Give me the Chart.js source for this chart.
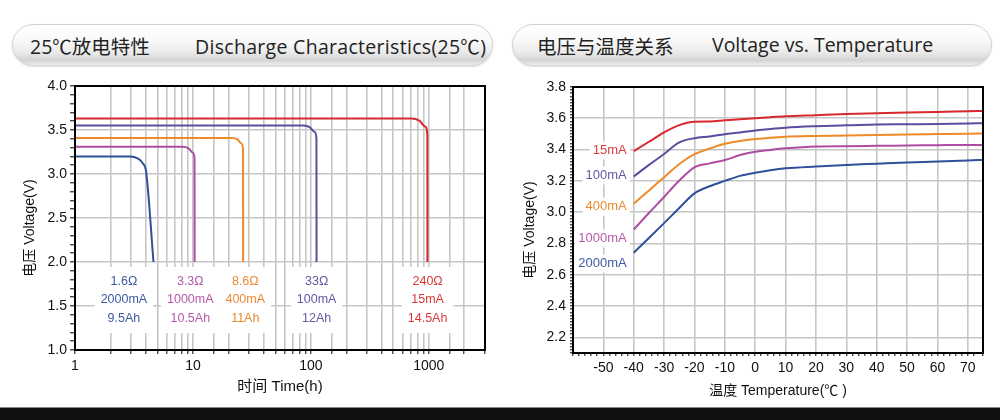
<!DOCTYPE html>
<html>
<head>
<meta charset="utf-8">
<script src="https://cdn.jsdelivr.net/npm/chart.js@4.4.1/dist/chart.umd.min.js"></script>
<style>
body{margin:0;background:#fff;width:1000px;height:420px;position:relative;overflow:hidden;font-family:'Open Sans','Noto Sans CJK SC',sans-serif}
.bar{position:absolute;top:24px;height:40px;border:1px solid #d2d2d2;border-radius:21px;
 background:linear-gradient(to bottom,#ffffff 0%,#f9f9f9 40%,#e9e9e9 70%,#d3d3d3 88%,#eeeeee 100%);
 box-shadow:0 1px 2px rgba(0,0,0,0.12)}
.bar span{position:absolute;top:6px;font-size:19.5px;color:#222;white-space:nowrap}
.box{position:absolute;top:70px;width:500px;height:335px}
#foot{position:absolute;left:0;top:407px;width:1000px;height:13px;background:#131010;border-top:1px solid #8a8a8a}
</style>
</head>
<body>
<div class="bar" style="left:12px;width:479px"><span style="left:17px">25℃放电特性</span><span style="left:182px;letter-spacing:0.3px">Discharge Characteristics(25℃)</span></div>
<div class="bar" style="left:512px;width:478px"><span style="left:24px">电压与温度关系</span><span style="left:199px">Voltage vs. Temperature</span></div>
<div class="box" style="left:0"><canvas id="chart1" width="500" height="335"></canvas></div>
<div class="box" style="left:500px"><canvas id="chart2" width="500" height="335"></canvas></div>
<div id="foot"></div>
<script>
// 放电曲线 (时间 h / 电压 V)
var time_2000mA = [1, 2.93, 3.43, 3.78, 4.01, 4.63];
var volt_2000mA = [3.2, 3.2, 3.174, 3.117, 3.026, 2.0];
var time_1000mA = [1, 8.16, 9.18, 10.0, 10.32, 10.34];
var volt_1000mA = [3.31, 3.31, 3.292, 3.242, 3.174, 2.0];
var time_400mA = [1, 21.4, 23.9, 25.8, 26.6, 26.65];
var volt_400mA = [3.41, 3.41, 3.393, 3.348, 3.285, 2.0];
var time_100mA = [1, 86.5, 98.3, 108, 111.6, 111.8];
var volt_100mA = [3.55, 3.55, 3.53, 3.476, 3.402, 2.0];
var time_15mA = [1, 711, 832, 933, 973, 975];
var volt_15mA = [3.63, 3.63, 3.606, 3.539, 3.448, 2.0];

var resistances = ['1.6Ω', '3.3Ω', '8.6Ω', '33Ω', '240Ω'];
var currents = ['2000mA', '1000mA', '400mA', '100mA', '15mA'];
var capacities = ['9.5Ah', '10.5Ah', '11Ah', '12Ah', '14.5Ah'];
var labelTimes = [2.6, 9.5, 27.8, 112, 978];
var timeTicks = [1, 10, 100, 1000];

// 温度曲线
var temps = [-40, -35, -30, -25, -20, -15, -10, -5, 0, 5, 10, 20, 30, 40, 50, 60, 70, 75];
var temp_15mA = [3.39, 3.45, 3.51, 3.556, 3.578, 3.58, 3.587, 3.594, 3.60, 3.607, 3.613, 3.62, 3.627, 3.633, 3.637, 3.64, 3.645, 3.647];
var temp_100mA = [3.228, 3.302, 3.372, 3.446, 3.473, 3.484, 3.498, 3.509, 3.522, 3.532, 3.54, 3.549, 3.555, 3.56, 3.562, 3.564, 3.567, 3.568];
var temp_400mA = [3.054, 3.139, 3.223, 3.308, 3.371, 3.407, 3.437, 3.455, 3.467, 3.476, 3.482, 3.487, 3.49, 3.494, 3.497, 3.499, 3.501, 3.503];
var temp_1000mA = [2.889, 2.995, 3.097, 3.202, 3.287, 3.312, 3.333, 3.365, 3.386, 3.398, 3.408, 3.42, 3.422, 3.424, 3.426, 3.428, 3.43, 3.43];
var temp_2000mA = [2.741, 2.835, 2.93, 3.027, 3.12, 3.166, 3.2, 3.232, 3.252, 3.268, 3.28, 3.292, 3.302, 3.31, 3.318, 3.324, 3.331, 3.334];
var tempNames = ['15mA', '100mA', '400mA', '1000mA', '2000mA'];
var tempLabelVolts = [3.395, 3.235, 3.035, 2.832, 2.672];

var colBlue = '#30509a', colMag = '#ae4ca3', colOrange = '#ee8a28', colPurple = '#5c4c9e', colRed = '#d8282e';
var txtColors = ['#3d5aa2', '#b658aa', '#e98a32', '#6656a6', '#d83a3a'];
var gridCol = '#c6c6c6';
var fontFam = "'Liberation Sans', Arial, 'Noto Sans CJK SC', sans-serif";

Chart.defaults.font.family = fontFam;
Chart.defaults.color = '#111';

function pts(xs, ys) {
    return xs.map(function (x, i) { return { x: x, y: ys[i] }; });
}
function line(label, xs, ys, color) {
    return { label: label, data: pts(xs, ys), borderColor: color, backgroundColor: color,
        borderWidth: 2, pointRadius: 0, fill: false, cubicInterpolationMode: 'monotone' };
}

// 外框 + 纵轴标题 (标题稍微偏下, 和原图一样)
var frame = {
    id: 'frame',
    afterDraw: function (chart) {
        var a = chart.chartArea, c = chart.ctx;
        c.save();
        c.strokeStyle = '#000';
        c.lineWidth = 2;
        c.strokeRect(a.left, a.top, a.right - a.left, a.bottom - a.top);
        c.translate(30, (a.top + a.bottom) / 2 + 10);
        c.rotate(-Math.PI / 2);
        c.font = '14px ' + fontFam;
        c.fillStyle = '#111';
        c.textAlign = 'center';
        c.textBaseline = 'middle';
        c.fillText('电压 Voltage(V)', 0, 0);
        c.restore();
    }
};

var dischargeLabels = {
    id: 'dischargeLabels',
    afterDraw: function (chart) {
        var c = chart.ctx, xs = chart.scales.x, ys = chart.scales.y;
        var cy = ys.getPixelForValue(1.5) - 6;
        c.save();
        c.font = '12.5px ' + fontFam;
        c.textAlign = 'center';
        c.textBaseline = 'middle';
        for (var i = 0; i < currents.length; i++) {
            var cx = xs.getPixelForValue(labelTimes[i]);
            var lines = [resistances[i], currents[i], capacities[i]];
            var w = Math.max.apply(null, lines.map(function (s) { return c.measureText(s).width; })) + 12;
            c.fillStyle = '#fff';
            c.fillRect(cx - w / 2, cy - 33, w, 66);
            c.fillStyle = txtColors[i];
            for (var k = 0; k < 3; k++) c.fillText(lines[k], cx, cy + (k - 1) * 18.5);
        }
        c.restore();
    }
};

var tempLabels = {
    id: 'tempLabels',
    afterDraw: function (chart) {
        var c = chart.ctx, xs = chart.scales.x, ys = chart.scales.y;
        var rx = xs.getPixelForValue(-40) - 7;
        var cols = [txtColors[4], txtColors[3], txtColors[2], txtColors[1], txtColors[0]];
        c.save();
        c.font = '13px ' + fontFam;
        c.textAlign = 'right';
        c.textBaseline = 'middle';
        for (var i = 0; i < tempNames.length; i++) {
            var y = ys.getPixelForValue(tempLabelVolts[i]);
            var w = c.measureText(tempNames[i]).width;
            c.fillStyle = '#fff';
            c.fillRect(rx - w - 3, y - 9, w + 6, 18);
            c.fillStyle = cols[i];
            c.fillText(tempNames[i], rx, y);
        }
        c.restore();
    }
};

function isMajor(v, step) {
    return Math.abs(v / step - Math.round(v / step)) < 1e-6;
}

new Chart(document.getElementById('chart1'), {
    type: 'line',
    data: {
        datasets: [
            line('2000mA', time_2000mA, volt_2000mA, colBlue),
            line('1000mA', time_1000mA, volt_1000mA, colMag),
            line('400mA', time_400mA, volt_400mA, colOrange),
            line('100mA', time_100mA, volt_100mA, colPurple),
            line('15mA', time_15mA, volt_15mA, colRed)
        ]
    },
    options: {
        responsive: false,
        animation: false,
        devicePixelRatio: 1,
        layout: { padding: { left: 0, top: 16, right: 15, bottom: 0 } },
        plugins: { legend: { display: false }, tooltip: { enabled: false } },
        scales: {
            x: {
                type: 'logarithmic', min: 1, max: 3000,
                afterFit: function (s) { s.height = 55; },
                border: { color: '#000', width: 2 },
                grid: { color: gridCol, lineWidth: 1.6, tickColor: '#000', tickLength: 4, tickWidth: 1 },
                ticks: { autoSkip: false, maxRotation: 0, padding: 4, font: { size: 14 },
                    callback: function (v) { return timeTicks.indexOf(v) >= 0 ? String(v) : ''; } },
                title: { display: true, text: '时间 Time(h)', font: { size: 15 }, color: '#111', padding: { top: 0, bottom: 9 } }
            },
            y: {
                min: 1, max: 4,
                afterFit: function (s) { s.width = 75; },
                border: { color: '#000', width: 2 },
                grid: { lineWidth: 1.6, tickLength: 5, tickWidth: 1, tickColor: '#000',
                    color: function (ctx) { return ctx.tick && isMajor(ctx.tick.value, 0.5) ? gridCol : 'rgba(0,0,0,0)'; } },
                ticks: { stepSize: 0.1, autoSkip: false, padding: 3, font: { size: 14 },
                    callback: function (v) { return isMajor(v, 0.5) ? v.toFixed(1) : ''; } }
            }
        }
    },
    plugins: [frame, dischargeLabels]
});

new Chart(document.getElementById('chart2'), {
    type: 'line',
    data: {
        datasets: [
            line('15mA', temps, temp_15mA, colRed),
            line('100mA', temps, temp_100mA, colPurple),
            line('400mA', temps, temp_400mA, colOrange),
            line('1000mA', temps, temp_1000mA, colMag),
            line('2000mA', temps, temp_2000mA, colBlue)
        ]
    },
    options: {
        responsive: false,
        animation: false,
        devicePixelRatio: 1,
        layout: { padding: { left: 0, top: 17, right: 17, bottom: 0 } },
        plugins: { legend: { display: false }, tooltip: { enabled: false } },
        scales: {
            x: {
                type: 'linear', min: -60, max: 75,
                afterFit: function (s) { s.height = 52; },
                border: { color: '#000', width: 2 },
                grid: { lineWidth: 1.6, tickLength: 3, tickWidth: 1, tickColor: '#000',
                    color: function (ctx) { var v = ctx.tick ? ctx.tick.value : 0; return isMajor(v, 10) && v > -60 ? gridCol : 'rgba(0,0,0,0)'; } },
                ticks: { stepSize: 2, autoSkip: false, maxRotation: 0, padding: 4, font: { size: 14 },
                    callback: function (v) { return isMajor(v, 10) && v > -60 ? String(v) : ''; } },
                title: { display: true, text: '温度 Temperature(℃ )', font: { size: 14 }, color: '#111', padding: { top: 0, bottom: 5 } }
            },
            y: {
                min: 2.1, max: 3.8,
                afterFit: function (s) { s.width = 73; },
                border: { color: '#000', width: 2 },
                grid: { lineWidth: 1.6, tickLength: 3, tickWidth: 1, tickColor: '#000',
                    color: function (ctx) { return ctx.tick && isMajor(ctx.tick.value, 0.2) ? gridCol : 'rgba(0,0,0,0)'; } },
                ticks: { stepSize: 0.02, autoSkip: false, padding: 4, font: { size: 14 },
                    callback: function (v) { return isMajor(v, 0.2) ? v.toFixed(1) : ''; } }
            }
        }
    },
    plugins: [frame, tempLabels]
});
</script>
</body>
</html>
